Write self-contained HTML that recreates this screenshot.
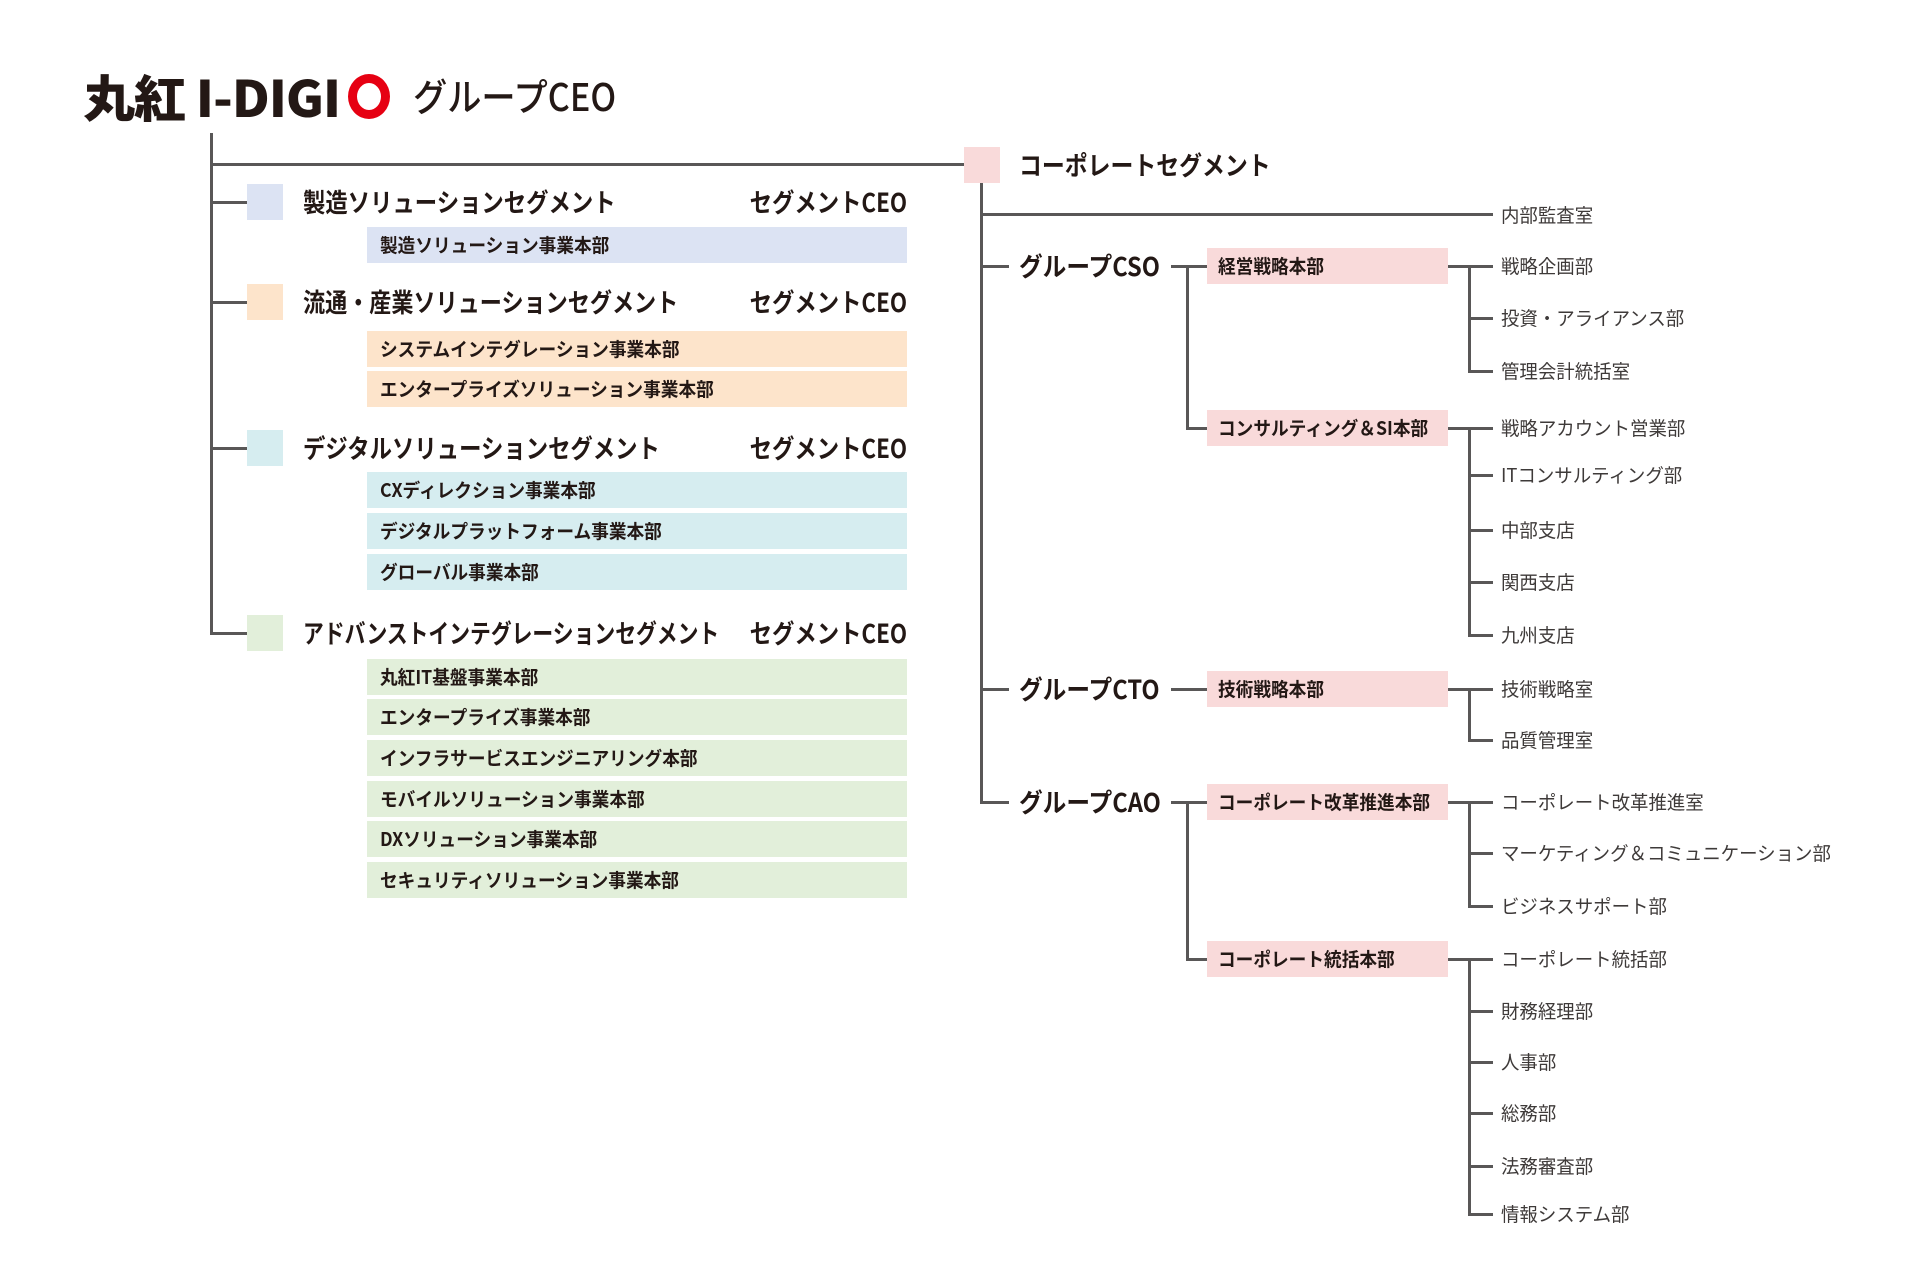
<!DOCTYPE html>
<html><head><meta charset="utf-8"><style>
*{margin:0;padding:0;box-sizing:border-box}
body{width:1920px;height:1282px;background:#fff;position:relative;overflow:hidden;font-family:"Liberation Sans","Noto Sans CJK JP",sans-serif;color:#231815}
.l{position:absolute;background:#595757}
.b{position:absolute}
.t{position:absolute;white-space:nowrap;transform:translateY(-50%) scaleX(.86);transform-origin:left center;font-family:"Noto Sans CJK JP",sans-serif}
.h{font-size:26px;font-weight:700;line-height:30px}
.g{transform:translateY(-50%) scaleX(.91)}
.s{font-size:19px;font-weight:700;line-height:22px;transform:translateY(-50%) scaleX(.93)}
.r{font-size:19px;font-weight:400;line-height:22px;transform:translateY(-50%) scaleX(.97);color:#3e3a39}
.ceo{transform-origin:right center}
.blue{background:#dce3f3}.or{background:#fde4cb}.cy{background:#d6edf0}.gr{background:#e2efda}.pk{background:#f9dada}
</style></head><body>
<!-- logo -->
<div class="t" style="left:83px;top:96px;font-size:50px;font-weight:900;line-height:56px;letter-spacing:-1px;transform:translateY(-50%) scaleX(1.04)">丸紅 I-DIGI</div>
<div class="b" style="left:348px;top:74px;width:42px;height:45px;border:9px solid #e60012;border-radius:50%"></div>
<div class="t" style="left:413px;top:95px;font-size:38px;font-weight:500;line-height:44px;transform:translateY(-50%) scaleX(.9)">グループCEO</div>

<!-- left tree -->
<div class="l" style="left:210px;top:133px;width:3px;height:502px"></div>
<div class="l" style="left:210px;top:163px;width:756px;height:3px"></div>
<div class="l" style="left:210px;top:201px;width:37px;height:3px"></div>
<div class="l" style="left:210px;top:301px;width:37px;height:3px"></div>
<div class="l" style="left:210px;top:447px;width:37px;height:3px"></div>
<div class="l" style="left:210px;top:632px;width:37px;height:3px"></div>

<div class="b blue" style="left:247px;top:184px;width:36px;height:36px"></div>
<div class="t h" style="left:303px;top:202px">製造ソリューションセグメント</div>
<div class="t h ceo" style="right:1013px;top:202px">セグメントCEO</div>
<div class="b blue" style="left:367px;top:227px;width:540px;height:36px"></div>
<div class="t s" style="left:380px;top:245px">製造ソリューション事業本部</div>

<div class="b or" style="left:247px;top:284px;width:36px;height:36px"></div>
<div class="t h" style="left:303px;top:302px;transform:translateY(-50%) scaleX(.85)">流通・産業ソリューションセグメント</div>
<div class="t h ceo" style="right:1013px;top:302px">セグメントCEO</div>
<div class="b or" style="left:367px;top:331px;width:540px;height:36px"></div>
<div class="t s" style="left:380px;top:349px">システムインテグレーション事業本部</div>
<div class="b or" style="left:367px;top:371px;width:540px;height:36px"></div>
<div class="t s" style="left:380px;top:389px">エンタープライズソリューション事業本部</div>

<div class="b cy" style="left:247px;top:430px;width:36px;height:36px"></div>
<div class="t h" style="left:303px;top:448px">デジタルソリューションセグメント</div>
<div class="t h ceo" style="right:1013px;top:448px">セグメントCEO</div>
<div class="b cy" style="left:367px;top:472px;width:540px;height:36px"></div>
<div class="t s" style="left:380px;top:490px">CXディレクション事業本部</div>
<div class="b cy" style="left:367px;top:513px;width:540px;height:36px"></div>
<div class="t s" style="left:380px;top:531px">デジタルプラットフォーム事業本部</div>
<div class="b cy" style="left:367px;top:554px;width:540px;height:36px"></div>
<div class="t s" style="left:380px;top:572px">グローバル事業本部</div>

<div class="b gr" style="left:247px;top:615px;width:36px;height:36px"></div>
<div class="t h" style="left:303px;top:633px;transform:translateY(-50%) scaleX(.8)">アドバンストインテグレーションセグメント</div>
<div class="t h ceo" style="right:1013px;top:633px">セグメントCEO</div>
<div class="b gr" style="left:367px;top:659px;width:540px;height:36px"></div>
<div class="t s" style="left:380px;top:677px">丸紅IT基盤事業本部</div>
<div class="b gr" style="left:367px;top:699px;width:540px;height:36px"></div>
<div class="t s" style="left:380px;top:717px">エンタープライズ事業本部</div>
<div class="b gr" style="left:367px;top:740px;width:540px;height:36px"></div>
<div class="t s" style="left:380px;top:758px">インフラサービスエンジニアリング本部</div>
<div class="b gr" style="left:367px;top:781px;width:540px;height:36px"></div>
<div class="t s" style="left:380px;top:799px">モバイルソリューション事業本部</div>
<div class="b gr" style="left:367px;top:821px;width:540px;height:36px"></div>
<div class="t s" style="left:380px;top:839px">DXソリューション事業本部</div>
<div class="b gr" style="left:367px;top:862px;width:540px;height:36px"></div>
<div class="t s" style="left:380px;top:880px">セキュリティソリューション事業本部</div>

<!-- right tree -->
<div class="b pk" style="left:964px;top:147px;width:36px;height:36px"></div>
<div class="t h" style="left:1019px;top:165px;transform:translateY(-50%) scaleX(.88)">コーポレートセグメント</div>
<div class="l" style="left:980px;top:183px;width:3px;height:621px"></div>
<div class="l" style="left:980px;top:213px;width:513px;height:3px"></div>
<div class="t r" style="left:1501px;top:215px">内部監査室</div>

<div class="l" style="left:980px;top:265px;width:29px;height:3px"></div>
<div class="t h g" style="left:1019px;top:266px">グループCSO</div>
<div class="l" style="left:1171px;top:265px;width:36px;height:3px"></div>
<div class="l" style="left:1186px;top:265px;width:3px;height:165px"></div>
<div class="l" style="left:1186px;top:427px;width:21px;height:3px"></div>
<div class="b pk" style="left:1207px;top:248px;width:241px;height:36px"></div>
<div class="t s" style="left:1218px;top:266px">経営戦略本部</div>
<div class="b pk" style="left:1207px;top:410px;width:241px;height:36px"></div>
<div class="t s" style="left:1218px;top:428px">コンサルティング＆SI本部</div>

<div class="l" style="left:1448px;top:265px;width:45px;height:3px"></div>
<div class="l" style="left:1468px;top:265px;width:3px;height:107px"></div>
<div class="l" style="left:1468px;top:317px;width:25px;height:3px"></div>
<div class="l" style="left:1468px;top:370px;width:25px;height:3px"></div>
<div class="t r" style="left:1501px;top:266px">戦略企画部</div>
<div class="t r" style="left:1501px;top:318px">投資・アライアンス部</div>
<div class="t r" style="left:1501px;top:371px">管理会計統括室</div>

<div class="l" style="left:1448px;top:427px;width:45px;height:3px"></div>
<div class="l" style="left:1468px;top:427px;width:3px;height:209px"></div>
<div class="l" style="left:1468px;top:474px;width:25px;height:3px"></div>
<div class="l" style="left:1468px;top:529px;width:25px;height:3px"></div>
<div class="l" style="left:1468px;top:581px;width:25px;height:3px"></div>
<div class="l" style="left:1468px;top:634px;width:25px;height:3px"></div>
<div class="t r" style="left:1501px;top:428px">戦略アカウント営業部</div>
<div class="t r" style="left:1501px;top:475px">ITコンサルティング部</div>
<div class="t r" style="left:1501px;top:530px">中部支店</div>
<div class="t r" style="left:1501px;top:582px">関西支店</div>
<div class="t r" style="left:1501px;top:635px">九州支店</div>

<div class="l" style="left:980px;top:688px;width:29px;height:3px"></div>
<div class="t h g" style="left:1019px;top:689px">グループCTO</div>
<div class="l" style="left:1171px;top:688px;width:36px;height:3px"></div>
<div class="b pk" style="left:1207px;top:671px;width:241px;height:36px"></div>
<div class="t s" style="left:1218px;top:689px">技術戦略本部</div>
<div class="l" style="left:1448px;top:688px;width:45px;height:3px"></div>
<div class="l" style="left:1468px;top:688px;width:3px;height:53px"></div>
<div class="l" style="left:1468px;top:739px;width:25px;height:3px"></div>
<div class="t r" style="left:1501px;top:689px">技術戦略室</div>
<div class="t r" style="left:1501px;top:740px">品質管理室</div>

<div class="l" style="left:980px;top:801px;width:29px;height:3px"></div>
<div class="t h g" style="left:1019px;top:802px">グループCAO</div>
<div class="l" style="left:1171px;top:801px;width:36px;height:3px"></div>
<div class="l" style="left:1186px;top:801px;width:3px;height:160px"></div>
<div class="l" style="left:1186px;top:958px;width:21px;height:3px"></div>
<div class="b pk" style="left:1207px;top:784px;width:241px;height:36px"></div>
<div class="t s" style="left:1218px;top:802px">コーポレート改革推進本部</div>
<div class="b pk" style="left:1207px;top:941px;width:241px;height:36px"></div>
<div class="t s" style="left:1218px;top:959px">コーポレート統括本部</div>

<div class="l" style="left:1448px;top:801px;width:45px;height:3px"></div>
<div class="l" style="left:1468px;top:801px;width:3px;height:107px"></div>
<div class="l" style="left:1468px;top:852px;width:25px;height:3px"></div>
<div class="l" style="left:1468px;top:905px;width:25px;height:3px"></div>
<div class="t r" style="left:1501px;top:802px">コーポレート改革推進室</div>
<div class="t r" style="left:1501px;top:853px">マーケティング＆コミュニケーション部</div>
<div class="t r" style="left:1501px;top:906px">ビジネスサポート部</div>

<div class="l" style="left:1448px;top:958px;width:45px;height:3px"></div>
<div class="l" style="left:1468px;top:958px;width:3px;height:257px"></div>
<div class="l" style="left:1468px;top:1010px;width:25px;height:3px"></div>
<div class="l" style="left:1468px;top:1061px;width:25px;height:3px"></div>
<div class="l" style="left:1468px;top:1112px;width:25px;height:3px"></div>
<div class="l" style="left:1468px;top:1165px;width:25px;height:3px"></div>
<div class="l" style="left:1468px;top:1213px;width:25px;height:3px"></div>
<div class="t r" style="left:1501px;top:959px">コーポレート統括部</div>
<div class="t r" style="left:1501px;top:1011px">財務経理部</div>
<div class="t r" style="left:1501px;top:1062px">人事部</div>
<div class="t r" style="left:1501px;top:1113px">総務部</div>
<div class="t r" style="left:1501px;top:1166px">法務審査部</div>
<div class="t r" style="left:1501px;top:1214px">情報システム部</div>
</body></html>
